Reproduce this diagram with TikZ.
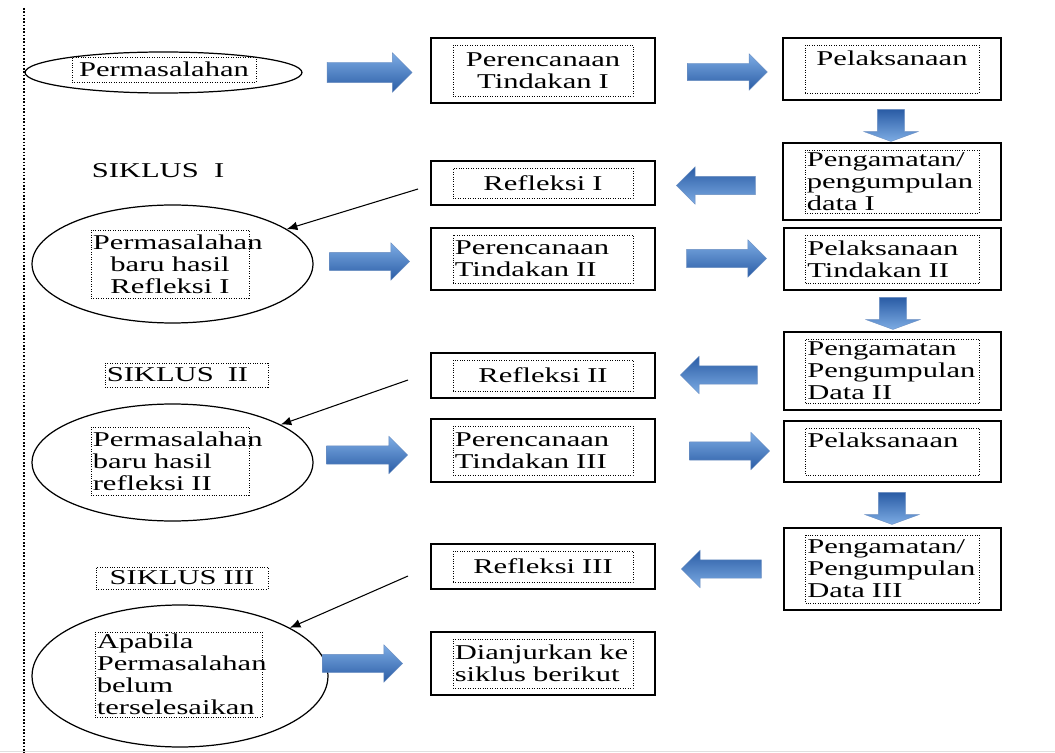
\documentclass[tikz,border=0pt]{standalone}
\usepackage{fontspec}
\setmainfont{Liberation Serif}[FakeStretch=1.45]
\usetikzlibrary{shapes.geometric,shapes.arrows,fit,arrows.meta}

\definecolor{arrowlight}{RGB}{125,172,228}
\definecolor{arrowdark}{RGB}{42,92,165}

\tikzset{
  txt/.style={font=\fontsize{12}{12.5}\selectfont},
  dotbox/.style={txt, draw, densely dotted, inner sep=1pt},
  lcol/.style={dotbox, text width=3.53cm},
  rcol/.style={dotbox, text width=3.41cm},
  solidbox/.style={draw, line width=1.1pt, inner xsep=0.43cm, inner ysep=0.14cm},
  oval/.style={draw, ellipse, line width=0.7pt, inner sep=0pt},
  blockarrow/.style={single arrow, inner xsep=0pt, inner ysep=0.18cm,
    single arrow head extend=0.19cm, single arrow tip angle=90,
    minimum height=1.6cm, draw=arrowdark!70, line width=0.2pt},
  rarrow/.style={blockarrow, top color=arrowlight, bottom color=arrowdark},
  larrow/.style={blockarrow, rotate=180, top color=arrowdark, bottom color=arrowlight},
  darrow/.style={blockarrow, rotate=-90, inner ysep=0.27cm, single arrow head extend=0.27cm,
    single arrow tip angle=140, minimum height=0.64cm,
    top color=arrowdark, bottom color=arrowlight},
  thin/.style={line width=0.6pt, -{Latex[length=6pt,width=5pt]}}
}

\begin{document}
\begin{tikzpicture}[x=0.02cm, y=-0.02cm]
\useasboundingbox (0,0) rectangle (1055,753);

% Margin line
\draw[densely dotted, line width=0.9pt] (24,8) -- (24,753);
\draw[black!12] (0,751) -- (1055,751);

% Siklus I
\node[oval, minimum width=5.54cm, minimum height=0.82cm] (e1) at (163.5,72.5) {};
\node[dotbox, text width=3.61cm, minimum height=0.5cm, align=center] (e1i) at (164,69.5) {Permasalahan};
\node[rarrow, minimum height=1.7cm, inner ysep=0.2cm] (a1) at (364.5,72.5) {};
\node[lcol, minimum height=1.02cm, align=center] (pt1i) at (543,70.5) {Perencanaan\\Tindakan I};
\node[solidbox, fit=(pt1i)] (pt1) {};
\node[rarrow, inner ysep=0.17cm] (a2) at (723,72) {};
\node[rcol, minimum height=0.96cm, align=center] (pl1i) at (892,69) {Pelaksanaan\\~};
\node[solidbox, fit=(pl1i)] (pl1) {};
\node[darrow] (d1) at (891,123) {};
\node[rcol, minimum height=1.26cm, align=left] (pg1i) at (892,181.5) {Pengamatan/\\pengumpulan\\data I};
\node[solidbox, fit=(pg1i)] (pg1) {};
\node[larrow, minimum height=1.58cm] (a3) at (720.5,185.5) {};
\node[lcol, minimum height=0.6cm, align=center] (r1i) at (543,183) {Refleksi I};
\node[solidbox, fit=(r1i)] (r1) {};
\node[txt] (s1) at (158,171) {SIKLUS\ \ I};

% Siklus II
\coordinate (t1) at (418,189);
\node[oval, minimum width=5.62cm, minimum height=2.36cm] (e2) at (172.5,264) {};
\draw[thin] (t1) -- (e2);
\node[dotbox, text width=3.09cm, minimum height=1.36cm, align=center] (e2i) at (170,264) {Permasalahan\\baru hasil\\Refleksi I};
\node[rarrow] (a4) at (365,261.5) {};
\node[lcol, minimum height=0.96cm, align=left] (pt2i) at (543,259) {Perencanaan\\Tindakan II};
\node[solidbox, fit=(pt2i)] (pt2) {};
\node[rarrow] (a5) at (722,258.5) {};
\node[rcol, minimum height=0.96cm, align=left] (pl2i) at (892.5,259) {Pelaksanaan\\Tindakan II};
\node[solidbox, fit=(pl2i)] (pl2) {};
\node[darrow] (d2) at (893,311) {};
\node[rcol, minimum height=1.28cm, align=left] (pg2i) at (892.5,371) {Pengamatan\\Pengumpulan\\Data II};
\node[solidbox, fit=(pg2i)] (pg2) {};
\node[larrow, minimum height=1.54cm] (a6) at (723.5,375) {};
\node[lcol, minimum height=0.62cm, align=center] (r2i) at (543,375.5) {Refleksi II};
\node[solidbox, fit=(r2i)] (r2) {};
\node[dotbox, text width=3.19cm, minimum height=0.48cm, align=left] (s2) at (186.5,375) {SIKLUS\ \ II};

% Siklus III
\coordinate (t2) at (408,380);
\node[oval, minimum width=5.62cm, minimum height=2.34cm] (e3) at (172.5,462.5) {};
\draw[thin] (t2) -- (e3);
\node[dotbox, text width=3.09cm, minimum height=1.36cm, align=left] (e3i) at (170,461) {Permasalahan\\baru hasil\\refleksi II};
\node[rarrow, minimum height=1.62cm] (a7) at (362.5,455) {};
\node[lcol, minimum height=0.98cm, align=left] (pt3i) at (543,450.5) {Perencanaan\\Tindakan III};
\node[solidbox, fit=(pt3i)] (pt3) {};
\node[rarrow] (a8) at (725,451) {};
\node[rcol, minimum height=0.94cm, align=left] (pl3i) at (892.5,451.5) {Pelaksanaan\\~};
\node[solidbox, fit=(pl3i)] (pl3) {};
\node[darrow] (d3) at (892,506) {};
\node[rcol, minimum height=1.36cm, align=left] (pg3i) at (892.5,569) {Pengamatan/\\Pengumpulan\\Data III};
\node[solidbox, fit=(pg3i)] (pg3) {};
\node[larrow] (a9) at (726,569) {};
\node[lcol, minimum height=0.62cm, align=center] (r3i) at (543,566.5) {Refleksi III};
\node[solidbox, fit=(r3i)] (r3) {};
\node[dotbox, text width=3.37cm, minimum height=0.44cm, align=center] (s3) at (182,578) {SIKLUS III};

% Akhir
\coordinate (t3) at (408,576);
\node[oval, minimum width=5.92cm, minimum height=2.84cm] (e4) at (180,676) {};
\draw[thin] (t3) -- (e4);
\node[dotbox, text width=3.27cm, minimum height=1.7cm, align=left] (e4i) at (178.5,674.5) {Apabila\\Permasalahan\\belum\\terselesaikan};
\node[rarrow] (a10) at (358,663.5) {};
\node[lcol, minimum height=0.98cm, align=left] (dki) at (543,663.5) {Dianjurkan ke\\siklus berikut};
\node[solidbox, fit=(dki)] (dk) {};

\end{tikzpicture}
\end{document}
